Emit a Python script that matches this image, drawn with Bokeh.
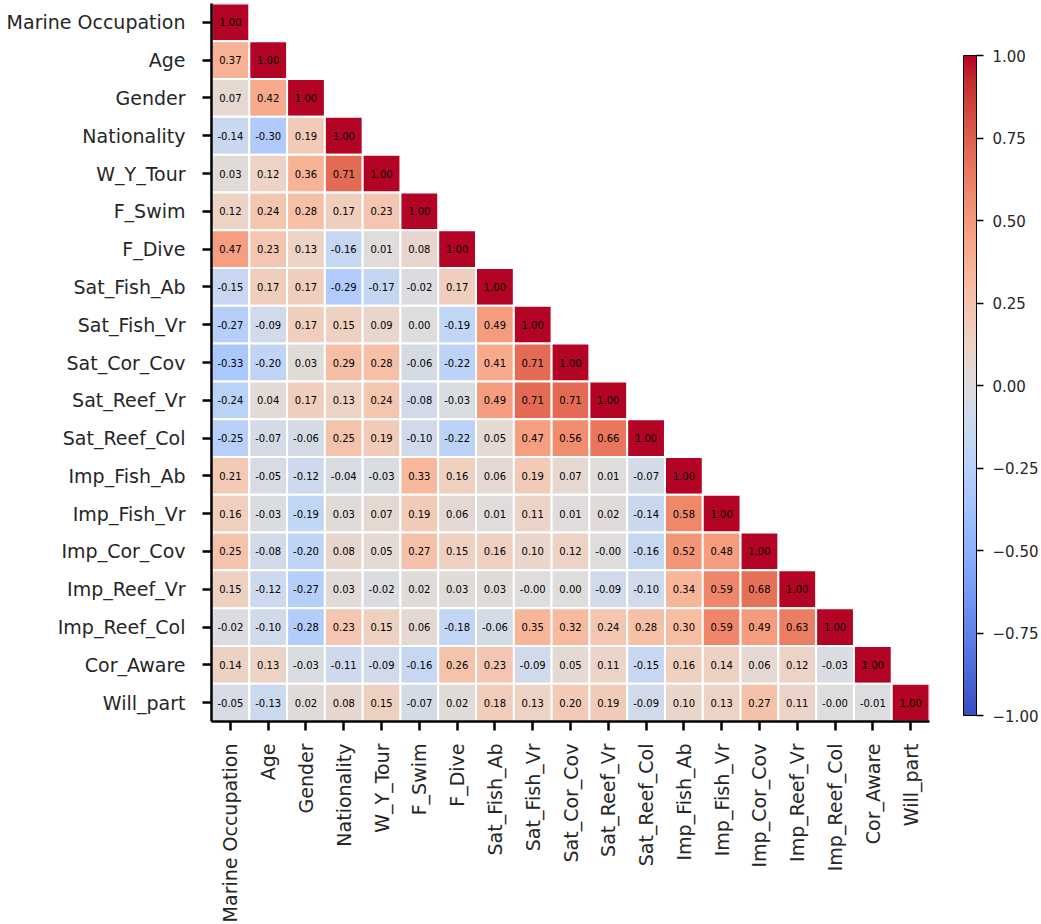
import math
import numpy as np
from bokeh.plotting import figure
from bokeh.models import (ColumnDataSource, LinearColorMapper, ColorBar, FixedTicker,
                          FactorRange, CustomJSTickFormatter)
from bokeh.core.properties import value
from bokeh.embed import file_html
from bokeh.resources import INLINE

labels = ["Marine Occupation", "Age", "Gender", "Nationality", "W_Y_Tour", "F_Swim",
          "F_Dive", "Sat_Fish_Ab", "Sat_Fish_Vr", "Sat_Cor_Cov", "Sat_Reef_Vr",
          "Sat_Reef_Col", "Imp_Fish_Ab", "Imp_Fish_Vr", "Imp_Cor_Cov", "Imp_Reef_Vr",
          "Imp_Reef_Col", "Cor_Aware", "Will_part"]

# lower triangle (incl. diagonal), row by row
corr_rows = [
    [1.00],
    [0.37, 1.00],
    [0.07, 0.42, 1.00],
    [-0.14, -0.30, 0.19, 1.00],
    [0.03, 0.12, 0.36, 0.71, 1.00],
    [0.12, 0.24, 0.28, 0.17, 0.23, 1.00],
    [0.47, 0.23, 0.13, -0.16, 0.01, 0.08, 1.00],
    [-0.15, 0.17, 0.17, -0.29, -0.17, -0.02, 0.17, 1.00],
    [-0.27, -0.09, 0.17, 0.15, 0.09, 0.00, -0.19, 0.49, 1.00],
    [-0.33, -0.20, 0.03, 0.29, 0.28, -0.06, -0.22, 0.41, 0.71, 1.00],
    [-0.24, 0.04, 0.17, 0.13, 0.24, -0.08, -0.03, 0.49, 0.71, 0.71, 1.00],
    [-0.25, -0.07, -0.06, 0.25, 0.19, -0.10, -0.22, 0.05, 0.47, 0.56, 0.66, 1.00],
    [0.21, -0.05, -0.12, -0.04, -0.03, 0.33, 0.16, 0.06, 0.19, 0.07, 0.01, -0.07, 1.00],
    [0.16, -0.03, -0.19, 0.03, 0.07, 0.19, 0.06, 0.01, 0.11, 0.01, 0.02, -0.14, 0.58, 1.00],
    [0.25, -0.08, -0.20, 0.08, 0.05, 0.27, 0.15, 0.16, 0.10, 0.12, -0.0, -0.16, 0.52, 0.48, 1.00],
    [0.15, -0.12, -0.27, 0.03, -0.02, 0.02, 0.03, 0.03, -0.0, 0.00, -0.09, -0.10, 0.34, 0.59, 0.68, 1.00],
    [-0.02, -0.10, -0.28, 0.23, 0.15, 0.06, -0.18, -0.06, 0.35, 0.32, 0.24, 0.28, 0.30, 0.59, 0.49, 0.63, 1.00],
    [0.14, 0.13, -0.03, -0.11, -0.09, -0.16, 0.26, 0.23, -0.09, 0.05, 0.11, -0.15, 0.16, 0.14, 0.06, 0.12, -0.03, 1.00],
    [-0.05, -0.13, 0.02, 0.08, 0.15, -0.07, 0.02, 0.18, 0.13, 0.20, 0.19, -0.09, 0.10, 0.13, 0.27, 0.11, -0.0, -0.01, 1.00],
]

colorbar_ticks = [-1.0, -0.75, -0.5, -0.25, 0.0, 0.25, 0.5, 0.75, 1.0]

# Moreland cool-warm anchors
cw_rgb = np.array([
    (59, 76, 192), (68, 90, 204), (77, 104, 215), (87, 117, 225), (98, 130, 234),
    (108, 142, 241), (119, 154, 247), (130, 165, 251), (141, 176, 254), (152, 185, 255),
    (163, 194, 255), (174, 201, 253), (184, 208, 249), (194, 213, 244), (204, 217, 238),
    (213, 219, 230), (221, 221, 221), (229, 216, 209), (236, 211, 197), (241, 204, 185),
    (245, 196, 173), (247, 187, 160), (247, 177, 148), (247, 166, 135), (244, 154, 123),
    (241, 141, 111), (236, 127, 99), (229, 112, 88), (222, 96, 77), (213, 80, 66),
    (203, 62, 56), (192, 40, 47), (180, 4, 38)], dtype=float)
pos = np.linspace(0, 1, len(cw_rgb))
t = np.linspace(0, 1, 256)
palette = []
for tt in t:
    r = np.interp(tt, pos, cw_rgb[:, 0])
    g = np.interp(tt, pos, cw_rgb[:, 1])
    b = np.interp(tt, pos, cw_rgb[:, 2])
    palette.append("#%02x%02x%02x" % (int(round(r)), int(round(g)), int(round(b))))

xs, ys, vals, txts = [], [], [], []
for i, row in enumerate(corr_rows):
    for j, v in enumerate(row):
        xs.append(labels[j])
        ys.append(labels[i])
        vals.append(v)
        txts.append(f"{v:.2f}")
src = ColumnDataSource(dict(x=xs, y=ys, val=vals, txt=txts))

mapper = LinearColorMapper(palette=palette, low=-1, high=1)

p = figure(x_range=FactorRange(factors=labels),
           y_range=FactorRange(factors=list(reversed(labels))),
           frame_width=718, frame_height=718,
           min_border_left=211, min_border_top=3, min_border_bottom=2, min_border_right=0,
           output_backend="svg", toolbar_location=None)

p.rect(x="x", y="y", width=1, height=1, source=src,
       fill_color={"field": "val", "transform": mapper},
       line_color="white", line_width=2)
p.text(x="x", y="y", text="txt", source=src, text_font=value("DejaVu Sans"),
       text_font_size="10px", text_align="center", text_baseline="middle",
       text_color="black")

p.grid.visible = False
p.outline_line_color = None
for ax in (p.xaxis, p.yaxis):
    ax.axis_line_color = "black"
    ax.axis_line_width = 2.5
    ax.major_tick_line_color = "black"
    ax.major_tick_line_width = 2.5
    ax.major_tick_in = 0
    ax.major_tick_out = 9
    ax.minor_tick_line_color = None
    ax.major_label_text_font = "DejaVu Sans"
    ax.major_label_text_font_size = "19px"
    ax.major_label_text_color = "#262626"
p.yaxis.major_label_standoff = 17
p.xaxis.major_label_standoff = 13
p.xaxis.major_label_orientation = math.pi / 2

cb = ColorBar(color_mapper=mapper, ticker=FixedTicker(ticks=colorbar_ticks),
              formatter=CustomJSTickFormatter(code="return (tick < 0 ? '\\u2212' : '') + Math.abs(tick).toFixed(2);"),
              width=13, height=660, location=(0, -28), margin=0, padding=34,
              bar_line_color="black", bar_line_width=1,
              major_tick_in=0, major_tick_out=7, major_tick_line_color="black",
              major_tick_line_width=1.5, minor_tick_line_color=None,
              label_standoff=9,
              major_label_text_font="DejaVu Sans", major_label_text_font_size="15px",
              major_label_text_color="#262626",
              background_fill_color=None, border_line_color=None)
p.add_layout(cb, "right")

open("out.html", "w").write(file_html(p, INLINE))
